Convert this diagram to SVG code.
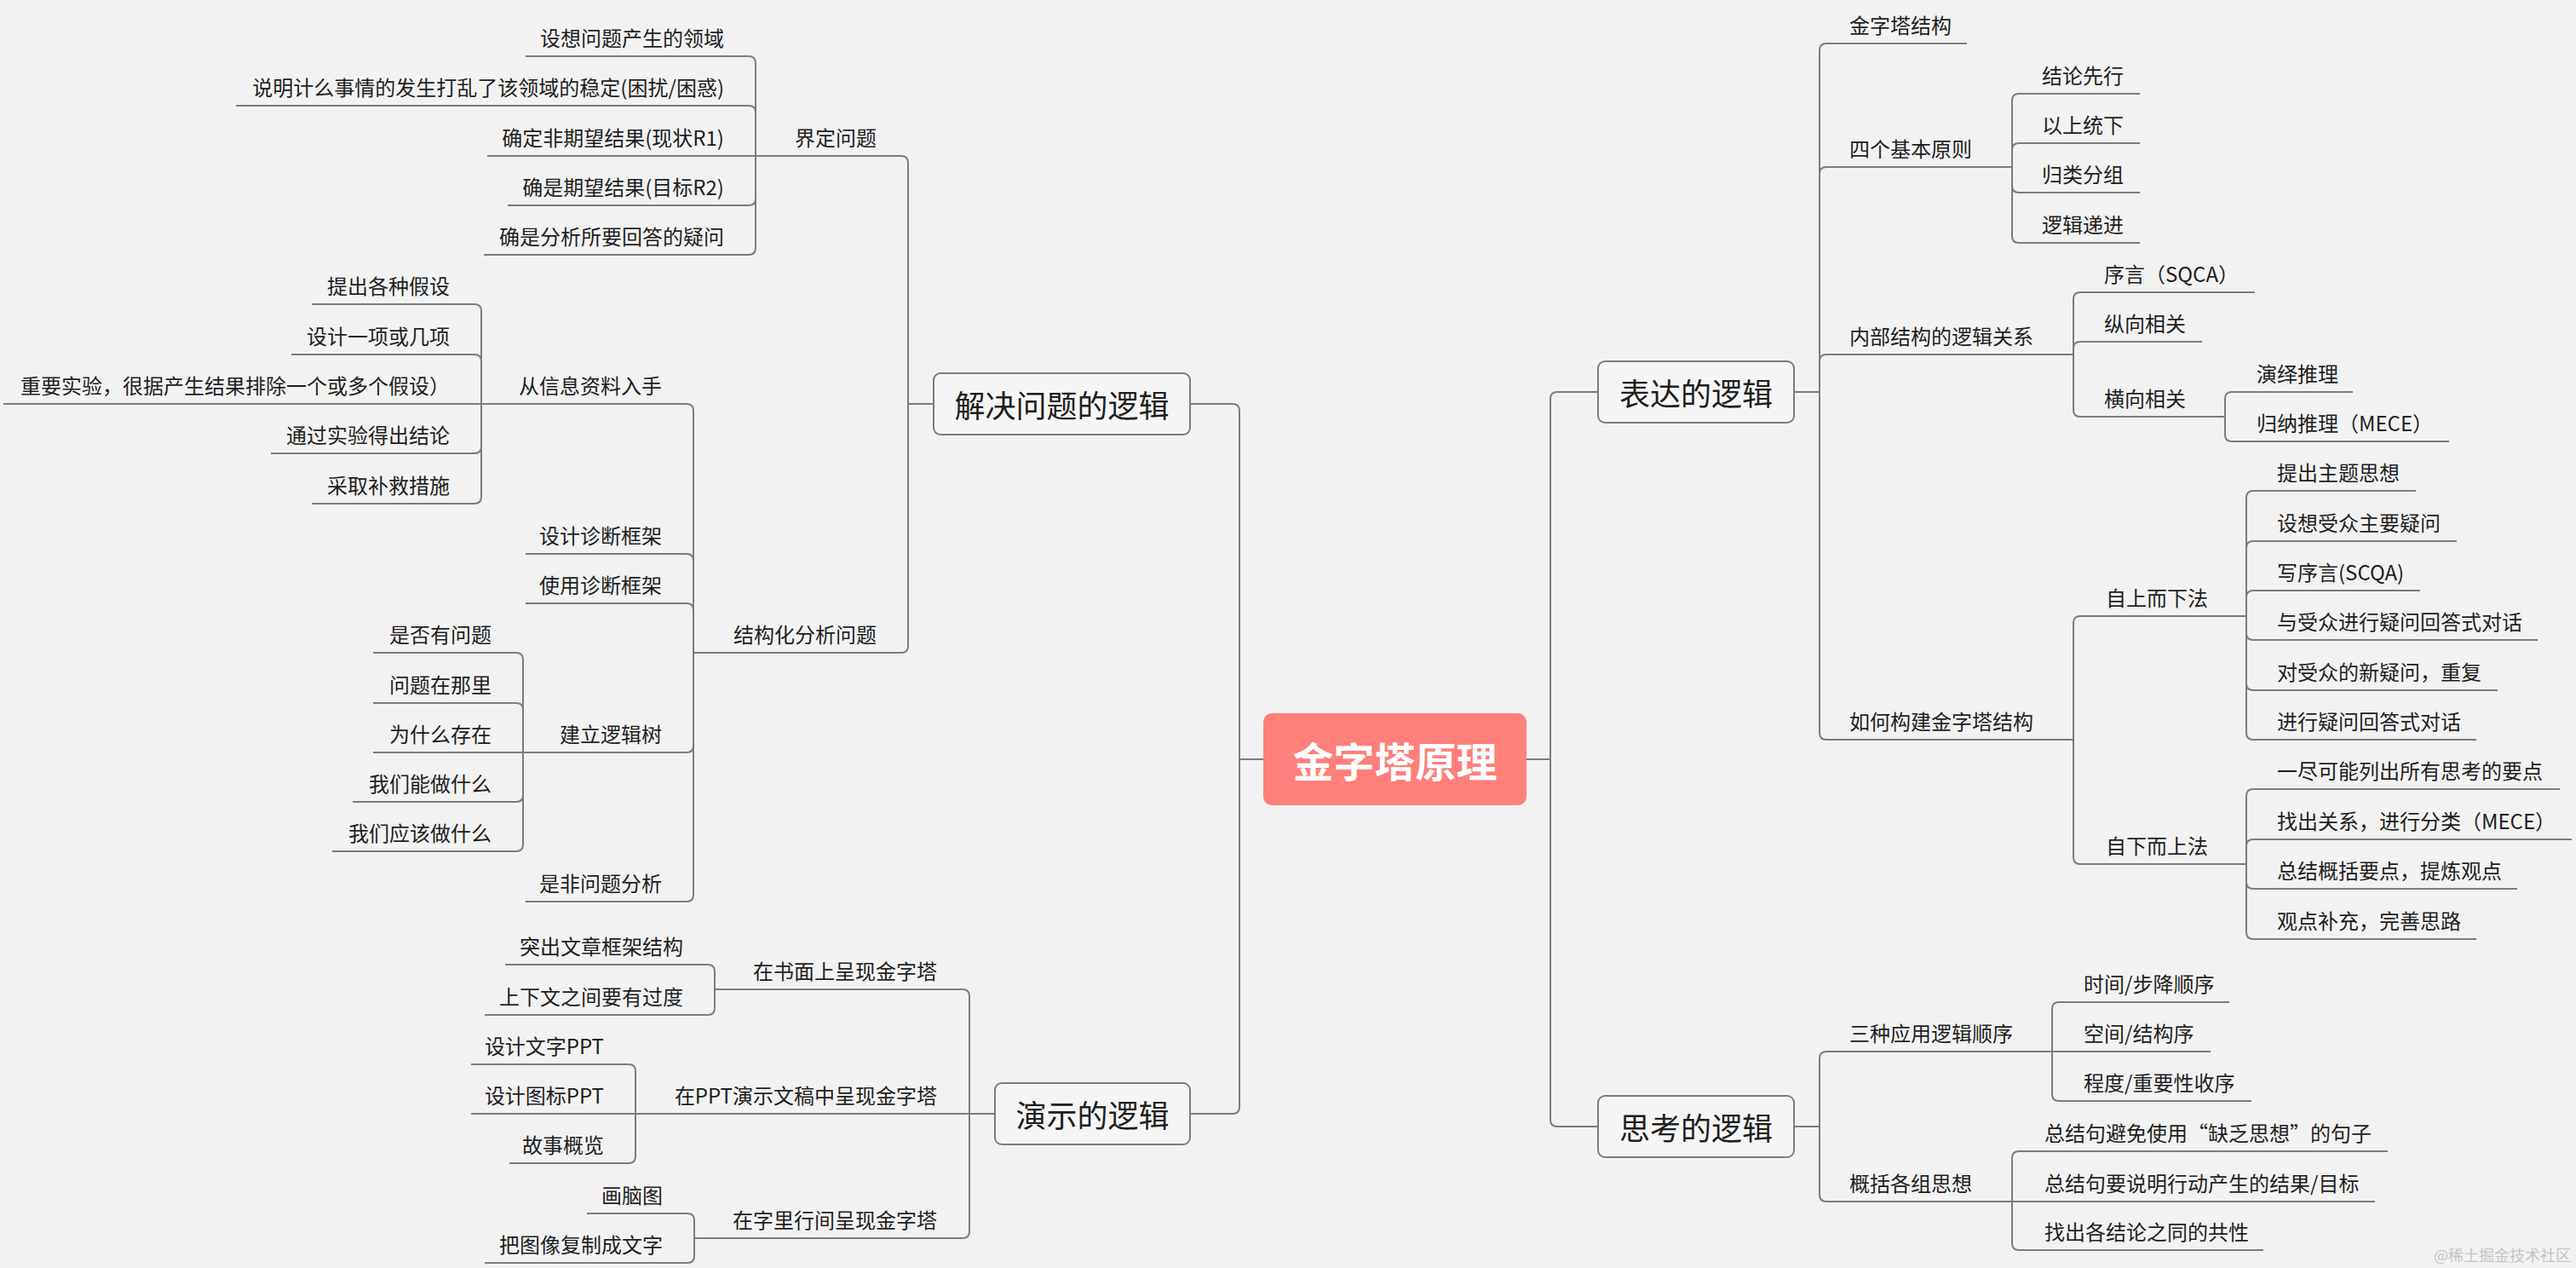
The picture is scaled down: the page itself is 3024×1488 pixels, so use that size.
<svg xmlns="http://www.w3.org/2000/svg" width="3024" height="1488" viewBox="0 0 3024 1488">
<style>
text{font-family:"Noto Sans CJK SC","Noto Sans",sans-serif;fill:#1e1e1e;dominant-baseline:central}
.s{font-size:24px}
.e{text-anchor:end}
.m{font-size:36px;text-anchor:middle}
.c{font-size:48px;font-weight:bold;fill:#ffffff;text-anchor:middle}
.w{font-size:18px;fill:#c4c4c4;text-anchor:end}
.u,.k{stroke:#7c7c7c;stroke-width:2;fill:none}
.b{fill:#f5f5f5;stroke:#7c7c7c;stroke-width:2}
</style>
<rect width="3024" height="1488" fill="#f2f2f2"/>

<g id="connectors" class="k">
<!-- center -->
<path d="M1397 474H1447Q1455 474 1455 482V891M1397 1307H1447Q1455 1307 1455 1299V891M1455 891H1483"/>
<path d="M1792 891H1820M1876 460H1828Q1820 460 1820 468V891M1876 1322H1828Q1820 1322 1820 1314V891"/>
<!-- B: 解决问题的逻辑 -->
<path d="M1066 474H1096M1058 183Q1066 183 1066 191V474M1058 766Q1066 766 1066 758V474"/>
<!-- A: 界定问题 -->
<path d="M879 66Q887 66 887 74V183M879 124Q887 124 887 132V183M879 241Q887 241 887 233V183M879 299Q887 299 887 291V183"/>
<!-- C: 结构化分析问题 -->
<path d="M806 474Q814 474 814 482V766M806 650Q814 650 814 658V766M806 708Q814 708 814 716V766M806 883Q814 883 814 875V766M806 1058Q814 1058 814 1050V766"/>
<!-- D: 从信息资料入手 -->
<path d="M557 357Q565 357 565 365V474M557 416Q565 416 565 424V474M557 532Q565 532 565 524V474M557 591Q565 591 565 583V474"/>
<!-- E: 建立逻辑树 -->
<path d="M606 766Q614 766 614 774V883M606 825Q614 825 614 833V883M606 941Q614 941 614 933V883M606 999Q614 999 614 991V883"/>
<!-- F: 演示的逻辑 -->
<path d="M1138 1307H1168M1130 1161Q1138 1161 1138 1169V1307M1130 1453Q1138 1453 1138 1445V1307"/>
<!-- G -->
<path d="M831 1132Q839 1132 839 1140V1161M831 1191Q839 1191 839 1183V1161"/>
<!-- H -->
<path d="M738 1249Q746 1249 746 1257V1307M738 1365Q746 1365 746 1357V1307"/>
<!-- I -->
<path d="M807 1424Q815 1424 815 1432V1453M807 1482Q815 1482 815 1474V1453"/>
<!-- J: 表达的逻辑 -->
<path d="M2106 460H2136M2144 51Q2136 51 2136 59V460M2144 196Q2136 196 2136 204V460M2144 416Q2136 416 2136 424V460M2144 868Q2136 868 2136 860V460"/>
<!-- K -->
<path d="M2370 110Q2362 110 2362 118V196M2370 168Q2362 168 2362 176V196M2370 226Q2362 226 2362 218V196M2370 285Q2362 285 2362 277V196"/>
<!-- L -->
<path d="M2442 343Q2434 343 2434 351V416M2442 401Q2434 401 2434 409V416M2442 489Q2434 489 2434 481V416"/>
<!-- M -->
<path d="M2620 460Q2612 460 2612 468V489M2620 518Q2612 518 2612 510V489"/>
<!-- N -->
<path d="M2442 723Q2434 723 2434 731V868M2442 1014Q2434 1014 2434 1006V868"/>
<!-- O -->
<path d="M2645 576Q2637 576 2637 584V723M2645 635Q2637 635 2637 643V723M2645 693Q2637 693 2637 701V723M2645 751Q2637 751 2637 743V723M2645 810Q2637 810 2637 802V723M2645 868Q2637 868 2637 860V723"/>
<!-- P -->
<path d="M2645 926Q2637 926 2637 934V1014M2645 985Q2637 985 2637 993V1014M2645 1043Q2637 1043 2637 1035V1014M2645 1102Q2637 1102 2637 1094V1014"/>
<!-- Q: 思考的逻辑 -->
<path d="M2106 1322H2136M2144 1234Q2136 1234 2136 1242V1322M2144 1410Q2136 1410 2136 1402V1322"/>
<!-- R -->
<path d="M2417 1176Q2409 1176 2409 1184V1234M2417 1292Q2409 1292 2409 1284V1234"/>
<!-- S -->
<path d="M2370 1351Q2362 1351 2362 1359V1410M2370 1467Q2362 1467 2362 1459V1410"/>
</g>

<!-- central -->
<g id="n-root"><rect x="1483" y="837" width="309" height="108" rx="10" fill="#ff7f7a"/><text class="c" x="1637.5" y="891">金字塔原理</text></g>

<!-- main branches -->
<g id="n-jiejue"><rect class="b" x="1096" y="438" width="301" height="72" rx="8"/><text class="m" x="1246.5" y="474">解决问题的逻辑</text></g>
<g id="n-yanshi"><rect class="b" x="1168" y="1271" width="229" height="72" rx="8"/><text class="m" x="1282.5" y="1307">演示的逻辑</text></g>
<g id="n-biaoda"><rect class="b" x="1876" y="424" width="230" height="72" rx="8"/><text class="m" x="1991" y="460">表达的逻辑</text></g>
<g id="n-sikao"><rect class="b" x="1876" y="1286" width="230" height="72" rx="8"/><text class="m" x="1991" y="1322">思考的逻辑</text></g>

<!-- 界定问题 -->
<g id="n-jieding"><text class="s e" x="1029" y="160">界定问题</text><path class="u" d="M887 183H1058"/></g>
<g id="n-a1"><text class="s e" x="850" y="43">设想问题产生的领域</text><path class="u" d="M617 66H879"/></g>
<g id="n-a2"><text class="s e" x="850" y="101">说明计么事情的发生打乱了该领域的稳定(困扰/困惑)</text><path class="u" d="M277 124H879"/></g>
<g id="n-a3"><text class="s e" x="850" y="160">确定非期望结果(现状R1)</text><path class="u" d="M572 183H887"/></g>
<g id="n-a4"><text class="s e" x="850" y="218">确是期望结果(目标R2)</text><path class="u" d="M596 241H879"/></g>
<g id="n-a5"><text class="s e" x="850" y="276">确是分析所要回答的疑问</text><path class="u" d="M568 299H879"/></g>

<!-- 结构化分析问题 -->
<g id="n-jiegou"><text class="s e" x="1029" y="743">结构化分析问题</text><path class="u" d="M814 766H1058"/></g>
<g id="n-xinxi"><text class="s e" x="777" y="451">从信息资料入手</text><path class="u" d="M565 474H806"/></g>
<g id="n-d1"><text class="s e" x="528" y="334">提出各种假设</text><path class="u" d="M366 357H557"/></g>
<g id="n-d2"><text class="s e" x="528" y="393">设计一项或几项</text><path class="u" d="M342 416H557"/></g>
<g id="n-d3"><text class="s e" x="528" y="451">重要实验，很据产生结果排除一个或多个假设）</text><path class="u" d="M4 474H565"/></g>
<g id="n-d4"><text class="s e" x="528" y="509">通过实验得出结论</text><path class="u" d="M318 532H557"/></g>
<g id="n-d5"><text class="s e" x="528" y="568">采取补救措施</text><path class="u" d="M366 591H557"/></g>
<g id="n-c2"><text class="s e" x="777" y="627">设计诊断框架</text><path class="u" d="M617 650H806"/></g>
<g id="n-c3"><text class="s e" x="777" y="685">使用诊断框架</text><path class="u" d="M617 708H806"/></g>
<g id="n-luojishu"><text class="s e" x="777" y="860">建立逻辑树</text><path class="u" d="M614 883H806"/></g>
<g id="n-e1"><text class="s e" x="577" y="743">是否有问题</text><path class="u" d="M438 766H606"/></g>
<g id="n-e2"><text class="s e" x="577" y="802">问题在那里</text><path class="u" d="M438 825H606"/></g>
<g id="n-e3"><text class="s e" x="577" y="860">为什么存在</text><path class="u" d="M438 883H614"/></g>
<g id="n-e4"><text class="s e" x="577" y="918">我们能做什么</text><path class="u" d="M414 941H606"/></g>
<g id="n-e5"><text class="s e" x="577" y="976">我们应该做什么</text><path class="u" d="M390 999H606"/></g>
<g id="n-c5"><text class="s e" x="777" y="1035">是非问题分析</text><path class="u" d="M617 1058H806"/></g>

<!-- 演示的逻辑 -->
<g id="n-shumian"><text class="s e" x="1100" y="1138">在书面上呈现金字塔</text><path class="u" d="M839 1161H1130"/></g>
<g id="n-g1"><text class="s e" x="802" y="1109">突出文章框架结构</text><path class="u" d="M593 1132H831"/></g>
<g id="n-g2"><text class="s e" x="802" y="1168">上下文之间要有过度</text><path class="u" d="M569 1191H831"/></g>
<g id="n-ppt"><text class="s e" x="1100" y="1284">在PPT演示文稿中呈现金字塔</text><path class="u" d="M746 1307H1138"/></g>
<g id="n-h1"><text class="s e" x="709" y="1226">设计文字PPT</text><path class="u" d="M553 1249H738"/></g>
<g id="n-h2"><text class="s e" x="709" y="1284">设计图标PPT</text><path class="u" d="M553 1307H746"/></g>
<g id="n-h3"><text class="s e" x="709" y="1342">故事概览</text><path class="u" d="M598 1365H738"/></g>
<g id="n-hangjian"><text class="s e" x="1100" y="1430">在字里行间呈现金字塔</text><path class="u" d="M815 1453H1130"/></g>
<g id="n-i1"><text class="s e" x="778" y="1401">画脑图</text><path class="u" d="M689 1424H807"/></g>
<g id="n-i2"><text class="s e" x="778" y="1459">把图像复制成文字</text><path class="u" d="M569 1482H807"/></g>

<!-- 表达的逻辑 -->
<g id="n-j1"><text class="s" x="2171" y="28">金字塔结构</text><path class="u" d="M2144 51H2309"/></g>
<g id="n-j2"><text class="s" x="2171" y="173">四个基本原则</text><path class="u" d="M2144 196H2362"/></g>
<g id="n-k1"><text class="s" x="2397" y="87">结论先行</text><path class="u" d="M2370 110H2512"/></g>
<g id="n-k2"><text class="s" x="2397" y="145">以上统下</text><path class="u" d="M2370 168H2512"/></g>
<g id="n-k3"><text class="s" x="2397" y="203">归类分组</text><path class="u" d="M2370 226H2512"/></g>
<g id="n-k4"><text class="s" x="2397" y="262">逻辑递进</text><path class="u" d="M2370 285H2512"/></g>
<g id="n-j3"><text class="s" x="2171" y="393">内部结构的逻辑关系</text><path class="u" d="M2144 416H2434"/></g>
<g id="n-l1"><text class="s" x="2470" y="320">序言（SQCA）</text><path class="u" d="M2442 343H2647"/></g>
<g id="n-l2"><text class="s" x="2470" y="378">纵向相关</text><path class="u" d="M2442 401H2585"/></g>
<g id="n-l3"><text class="s" x="2470" y="466">横向相关</text><path class="u" d="M2442 489H2612"/></g>
<g id="n-m1"><text class="s" x="2649" y="437">演绎推理</text><path class="u" d="M2620 460H2762"/></g>
<g id="n-m2"><text class="s" x="2649" y="495">归纳推理（MECE）</text><path class="u" d="M2620 518H2875"/></g>
<g id="n-j4"><text class="s" x="2171" y="845">如何构建金字塔结构</text><path class="u" d="M2144 868H2434"/></g>
<g id="n-n1"><text class="s" x="2472" y="700">自上而下法</text><path class="u" d="M2442 723H2637"/></g>
<g id="n-o1"><text class="s" x="2673" y="553">提出主题思想</text><path class="u" d="M2645 576H2836"/></g>
<g id="n-o2"><text class="s" x="2673" y="612">设想受众主要疑问</text><path class="u" d="M2645 635H2884"/></g>
<g id="n-o3"><text class="s" x="2673" y="670">写序言(SCQA)</text><path class="u" d="M2645 693H2841"/></g>
<g id="n-o4"><text class="s" x="2673" y="728">与受众进行疑问回答式对话</text><path class="u" d="M2645 751H2979"/></g>
<g id="n-o5"><text class="s" x="2673" y="787">对受众的新疑问，重复</text><path class="u" d="M2645 810H2932"/></g>
<g id="n-o6"><text class="s" x="2673" y="845">进行疑问回答式对话</text><path class="u" d="M2645 868H2907"/></g>
<g id="n-n2"><text class="s" x="2472" y="991">自下而上法</text><path class="u" d="M2442 1014H2637"/></g>
<g id="n-p1"><text class="s" x="2673" y="903">一尽可能列出所有思考的要点</text><path class="u" d="M2645 926H3005"/></g>
<g id="n-p2"><text class="s" x="2673" y="962">找出关系，进行分类（MECE）</text><path class="u" d="M2645 985H3019"/></g>
<g id="n-p3"><text class="s" x="2673" y="1020">总结概括要点，提炼观点</text><path class="u" d="M2645 1043H2955"/></g>
<g id="n-p4"><text class="s" x="2673" y="1079">观点补充，完善思路</text><path class="u" d="M2645 1102H2907"/></g>

<!-- 思考的逻辑 -->
<g id="n-q1"><text class="s" x="2171" y="1211">三种应用逻辑顺序</text><path class="u" d="M2144 1234H2409"/></g>
<g id="n-r1"><text class="s" x="2446" y="1153">时间/步降顺序</text><path class="u" d="M2417 1176H2617"/></g>
<g id="n-r2"><text class="s" x="2446" y="1211">空间/结构序</text><path class="u" d="M2409 1234H2595"/></g>
<g id="n-r3"><text class="s" x="2446" y="1269">程度/重要性收序</text><path class="u" d="M2417 1292H2643"/></g>
<g id="n-q2"><text class="s" x="2171" y="1387">概括各组思想</text><path class="u" d="M2144 1410H2362"/></g>
<g id="n-s1"><text class="s" x="2400" y="1328">总结句避免使用“缺乏思想”的句子</text><path class="u" d="M2370 1351H2803"/></g>
<g id="n-s2"><text class="s" x="2400" y="1387">总结句要说明行动产生的结果/目标</text><path class="u" d="M2362 1410H2788"/></g>
<g id="n-s3"><text class="s" x="2400" y="1444">找出各结论之同的共性</text><path class="u" d="M2370 1467H2657"/></g>

<text class="w" x="3018" y="1472">@稀土掘金技术社区</text>
</svg>
